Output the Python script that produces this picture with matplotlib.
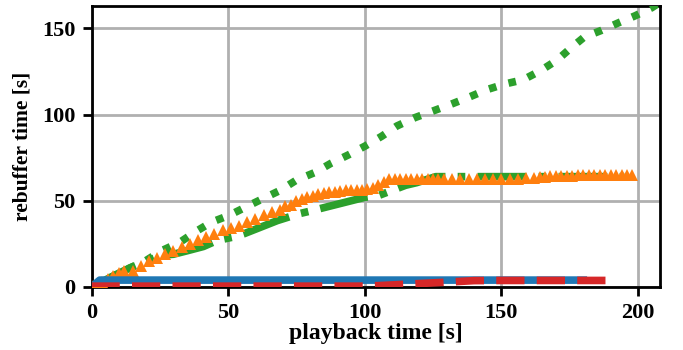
import matplotlib
matplotlib.use("Agg")
import matplotlib.pyplot as plt

plt.rcParams['font.family'] = ['Liberation Serif', 'DejaVu Serif']
plt.rcParams['font.weight'] = 'bold'

# ---- data ----
blue_x = [0, 3, 180]
blue_y = [0, 4, 4]

red_x = [0, 100, 105, 110, 120, 130, 140, 150, 192]
red_y = [0.5, 0.5, 0.8, 1.2, 2.0, 2.8, 3.7, 3.8, 3.8]

orange_x = [0, 2, 4, 6, 8, 10, 12, 15, 18, 21, 24, 27, 30, 33, 36, 39, 42, 45,
            48, 51, 54, 57, 60, 63, 66, 69, 71, 73, 75, 77, 79, 81, 83, 85, 87,
            89, 91, 93, 95, 97, 99, 101, 103, 105, 107, 109, 111, 113, 115, 117,
            119, 121, 123, 125, 127, 129, 132, 135, 138, 141, 144, 147, 150, 153,
            156, 159, 162, 164, 166, 168, 170, 172, 174, 176, 178, 180, 182, 184,
            186, 188, 190, 192, 194, 196, 198]
orange_y = [0.5, 1.5, 3, 4.5, 6.5, 8, 9, 9.5, 12, 15, 17, 19, 21, 23, 25, 27.5, 29,
            31, 33, 34.5, 35.5, 37.5, 39.5, 42, 43.5, 44.5, 47, 47.5, 50, 51, 52,
            53, 54, 54.5, 55, 55, 55.5, 56, 56, 56, 56.5, 57, 57.5, 59, 61, 62.5,
            62.5, 62.5, 62.5, 62.5, 62.5, 62.5, 62.5, 62.5, 62.5, 62.5, 62.5, 62.5,
            62.5, 62.5, 62.5, 62.5, 62.5, 62.5, 62.5, 63, 63.5, 63.8, 64, 64.2,
            64.5, 64.5, 64.5, 64.5, 64.8, 64.8, 64.8, 65, 65, 65, 65, 65, 65, 65, 65]

gdash_x = [0, 5, 10, 14, 20, 26, 30, 35, 41, 46, 52, 56, 60, 64, 68, 72, 76, 80,
           85, 90, 95, 100, 105, 110, 115, 119, 123, 126, 135, 145, 155, 165,
           175, 185, 195]
gdash_y = [0, 4, 8, 11, 15, 18.5, 19, 21, 23.5, 27, 29, 31, 33.5, 36, 38.5, 40.5,
           42.5, 44, 46, 48, 50, 52, 53, 56, 59, 60.5, 62.5, 64, 64, 64, 64, 64,
           64, 64, 64]

gdot_x = [0, 14, 19.6, 25.6, 32.4, 38, 43.9, 50.3, 56.5, 62.8, 69, 75, 81.9, 87.6,
          94, 100.2, 106.3, 111.8, 118.5, 125.2, 131.6, 138, 144.6, 151.2, 158,
          164.4, 170.5, 175, 180.3, 186.6, 193, 199, 205.1, 208]
gdot_y = [0, 11, 15, 21, 26, 32, 37.6, 41.5, 46.4, 51.3, 56, 62, 66.5, 71.7, 76.6,
          81.8, 87.5, 93.4, 98.3, 102.2, 106, 110, 114.4, 117.7, 120.2, 125.5,
          131.7, 138, 144.9, 148.8, 153.3, 157.3, 162, 165]

x_ticks = [0, 50, 100, 150, 200]
y_ticks = [0, 50, 100, 150]

fig = plt.figure(figsize=(6.83, 3.5), dpi=100)
ax = fig.add_axes([0.134, 0.18, 0.832, 0.803])

lw = 5.5
ax.plot(gdot_x, gdot_y, color='#2ca02c', lw=lw, ls=':', zorder=3)
ax.plot(gdash_x, gdash_y, color='#2ca02c', lw=lw, ls='-.', zorder=3)
ax.plot(orange_x, orange_y, color='#ff7f0e', ls='none', marker='^', ms=9,
        markeredgewidth=0, zorder=4)
ax.plot(blue_x, blue_y, color='#1f77b4', lw=lw, ls='-', zorder=4)
ax.plot(red_x, red_y, color='#d62728', lw=lw, ls='--', zorder=5)

ax.set_xlim(0, 208)
ax.set_ylim(0, 163)
ax.set_xticks(x_ticks)
ax.set_yticks(y_ticks)
ax.grid(True, color='#b0b0b0', lw=2)
ax.set_axisbelow(True)

for s in ax.spines.values():
    s.set_linewidth(2)
    s.set_color('black')
ax.tick_params(axis='both', which='major', length=6.5, width=2, labelsize=16,
               direction='out', pad=5)
for lab in ax.get_xticklabels() + ax.get_yticklabels():
    lab.set_fontweight('bold')

ax.set_xlabel('playback time [s]', fontsize=17, fontweight='bold', labelpad=0)
ax.set_ylabel('rebuffer time [s]', fontsize=15.5, fontweight='bold', labelpad=7)

fig.savefig('out.png', dpi=100)
